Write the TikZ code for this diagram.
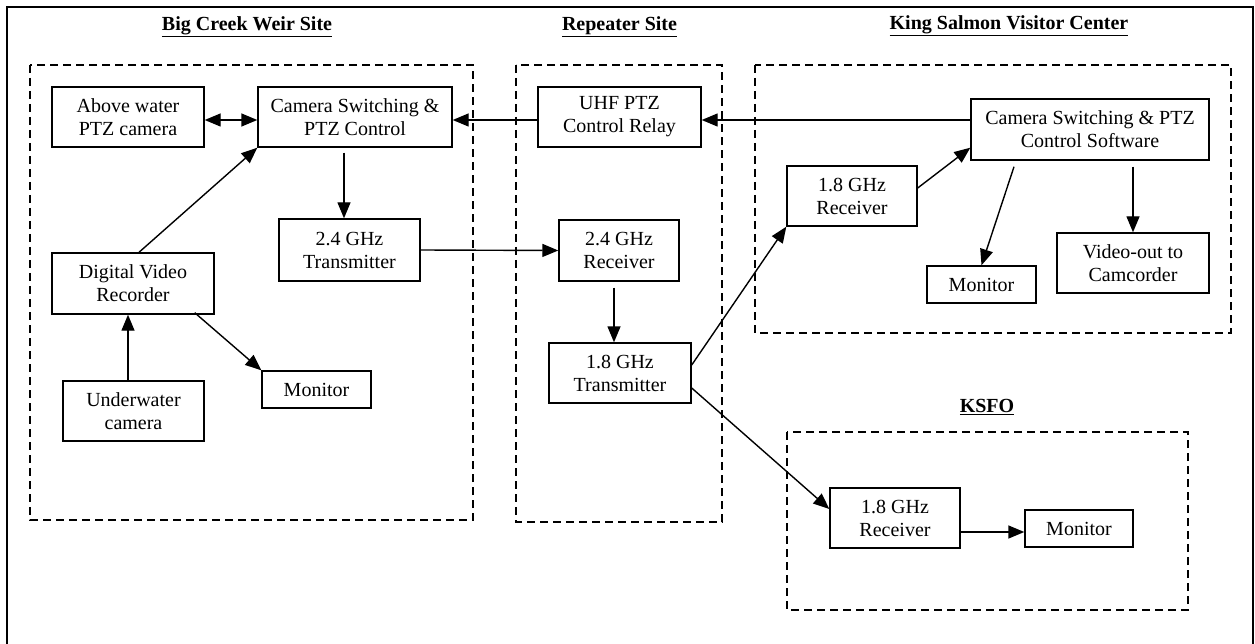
\documentclass[tikz,border=0pt]{standalone}
\usepackage{fontspec}
\setmainfont{Liberation Serif}
\usetikzlibrary{arrows.meta}
\begin{document}
\begin{tikzpicture}[x=1pt,y=-1pt,
  blk/.style={draw, line width=1.4pt, inner sep=0pt, align=center,
    font=\fontsize{20}{23}\selectfont},
  site/.style={draw, line width=1.3pt, dash pattern=on 8pt off 5pt},
  heading/.style={inner sep=0pt, font=\fontsize{20}{23}\selectfont\bfseries},
  arr/.style={line width=1.4pt, -{Triangle[length=16pt,width=13pt]}},
  dblarr/.style={line width=1.4pt, {Triangle[length=16pt,width=13pt]}-{Triangle[length=16pt,width=13pt]}}]
\useasboundingbox (0,0) rectangle (1255,644);
% outer frame (open at the bottom)
\draw[line width=2pt] (7,644) -- (7,7) -- (1253,7) -- (1253,644);

% site regions
\draw[site] (30,65) rectangle (473,520);
\draw[site] (516,65) rectangle (722,522);
\draw[site] (755,65) rectangle (1231,333);
\draw[site] (787,432) rectangle (1188,610);

% site headings
\node[heading] (hbc) at (247,27) {\underline{Big Creek Weir Site}};
\node[heading] (hrep) at (619.5,27) {\underline{Repeater Site}};
\node[heading] (hks) at (1009,26) {\underline{King Salmon Visitor Center}};
\node[heading] (hksfo) at (987,407) {\underline{KSFO}};

% Big Creek Weir Site
\node[blk, minimum width=152, minimum height=60] (above) at (128,117) {Above water\\PTZ camera};
\node[blk, minimum width=194, minimum height=60] (cs) at (355,117) {Camera Switching \&\\PTZ Control};
\node[blk, minimum width=141, minimum height=62] (tx24) at (349.5,250) {2.4 GHz\\Transmitter};
\node[blk, minimum width=162, minimum height=61] (dvr) at (133,283.5) {Digital Video\\Recorder};
\node[blk, minimum width=141, minimum height=60] (uw) at (133.5,411) {Underwater\\camera};
\node[blk, minimum width=109, minimum height=37] (mon1) at (316.5,389.5) {Monitor};

% Repeater Site
\node[blk, minimum width=163, minimum height=60] (uhf) at (619.5,117) {UHF PTZ\\Control Relay};
\node[blk, minimum width=120, minimum height=61] (rx24) at (619,250.5) {2.4 GHz\\Receiver};
\node[blk, minimum width=142, minimum height=60] (tx18) at (620,373) {1.8 GHz\\Transmitter};

% King Salmon Visitor Center
\node[blk, minimum width=238, minimum height=61] (sw) at (1090,129.5) {Camera Switching \& PTZ\\Control Software};
\node[blk, minimum width=130, minimum height=60] (ksrx) at (852,196) {1.8 GHz\\Receiver};
\node[blk, minimum width=109, minimum height=37] (mon2) at (981.5,284.5) {Monitor};
\node[blk, minimum width=152, minimum height=60] (vid) at (1133,263) {Video-out to\\Camcorder};

% KSFO
\node[blk, minimum width=130, minimum height=60] (kfrx) at (895,518) {1.8 GHz\\Receiver};
\node[blk, minimum width=108, minimum height=37] (kfmon) at (1079,528.5) {Monitor};

% connectors
\draw[dblarr] ([yshift=-3pt]above.east) -- ([yshift=-3pt]cs.west);
\draw[arr] ([yshift=-3pt]uhf.west) -- ([yshift=-3pt]cs.east);
\draw[arr] ([yshift=9.5pt]sw.west) -- ([yshift=-3pt]uhf.east);
\draw[arr] ([xshift=-11pt,yshift=-5pt]cs.south) -- ([xshift=-5.5pt]tx24.north);
\draw[arr] ([xshift=6pt]dvr.north) -- (cs.south west);
\draw[arr] ([xshift=-5.5pt]uw.north) -- ([xshift=-5pt]dvr.south);
\draw[arr] ([xshift=-20pt,yshift=2pt]dvr.south east) -- (mon1.north west);
\draw[arr] (tx24.east) -- (rx24.west);
\draw[arr] ([xshift=-5pt,yshift=-6pt]rx24.south) -- ([xshift=-6pt]tx18.north);
\draw[arr] ([yshift=8pt]tx18.east) -- (ksrx.south west);
\draw[arr] ([yshift=-15pt]tx18.east) -- ([yshift=9pt]kfrx.west);
\draw[arr] ([yshift=8pt]ksrx.east) -- ([yshift=13pt]sw.south west);
\draw[arr] ([xshift=-76pt,yshift=-6pt]sw.south) -- (mon2.north);
\draw[arr] ([yshift=-6pt]sw.south -| vid.north) -- (vid.north);
\draw[arr] ([yshift=-14pt]kfrx.east) -- ([yshift=-14pt]kfrx.east -| kfmon.west);
\end{tikzpicture}
\end{document}
